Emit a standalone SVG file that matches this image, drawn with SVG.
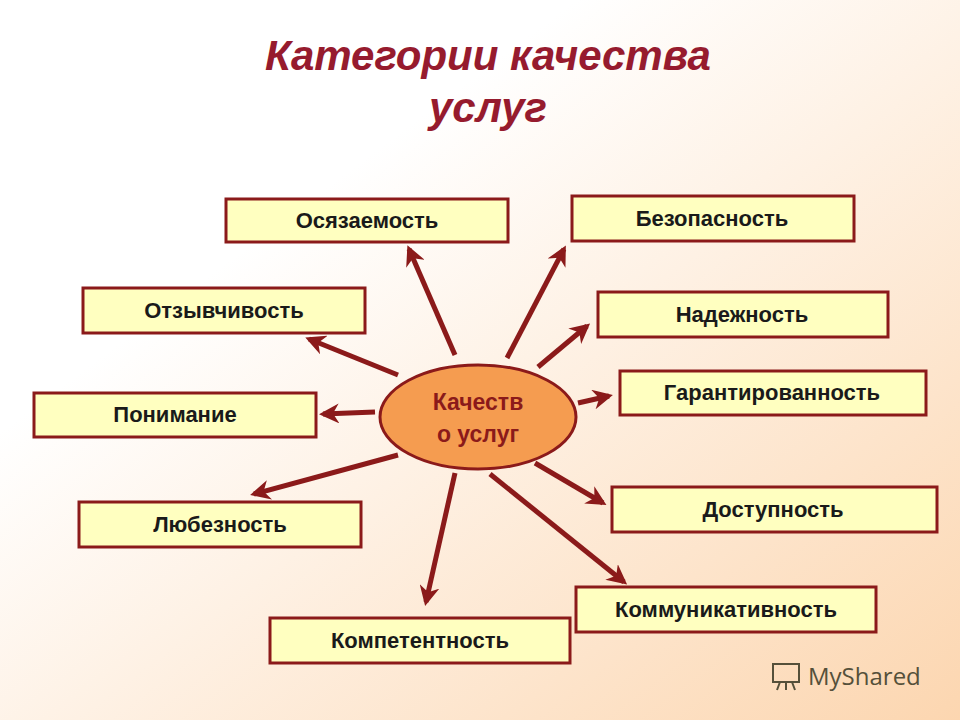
<svg xmlns="http://www.w3.org/2000/svg" width="960" height="720" viewBox="0 0 960 720">
<defs>
<linearGradient id="bg" x1="0" y1="0" x2="1" y2="1">
<stop offset="0.3" stop-color="#ffffff"/><stop offset="1" stop-color="#fcd6b0"/>
</linearGradient>
<marker id="ah" viewBox="0 0 10 10" refX="8" refY="5" markerWidth="4" markerHeight="4" orient="auto" markerUnits="strokeWidth">
<path d="M0,0 L10,5 L0,10 L3,5 Z" fill="#8b1a1a"/>
</marker>
<style>
.box rect{fill:#ffffc0;stroke:#8b1a1a;stroke-width:3}
.box text{font-family:"Liberation Sans",Arial,sans-serif;font-weight:bold;font-size:22px;fill:#1a1a1a;text-anchor:middle}
#connectors line{stroke:#8b1a1a;stroke-width:5;marker-end:url(#ah)}
.title{font-family:"Liberation Sans",Arial,sans-serif;font-weight:bold;font-style:italic;font-size:42px;fill:#961b2e;text-anchor:middle}
</style>
</defs>
<rect width="960" height="720" fill="url(#bg)"/>
<text class="title" x="488" y="70">Категории качества</text>
<text class="title" x="488" y="122">услуг</text>
<g id="connectors">
<line x1="455" y1="355" x2="409" y2="249"/>
<line x1="507" y1="358" x2="564" y2="249"/>
<line x1="398" y1="375" x2="309" y2="339"/>
<line x1="538" y1="367" x2="587" y2="326"/>
<line x1="578" y1="403" x2="609" y2="396"/>
<line x1="375" y1="412" x2="323" y2="414"/>
<line x1="398" y1="455" x2="254" y2="494"/>
<line x1="455" y1="473" x2="426" y2="602"/>
<line x1="490" y1="474" x2="624" y2="582"/>
<line x1="535" y1="463" x2="603" y2="503"/>
</g>
<g id="center">
<ellipse cx="478" cy="417" rx="98" ry="52" fill="#f59c50" stroke="#8b1a1a" stroke-width="3"/>
<text x="478" y="410" font-family="Liberation Sans,Arial,sans-serif" font-weight="bold" font-size="23" fill="#8b1a1a" text-anchor="middle">Качеств</text>
<text x="478" y="442" font-family="Liberation Sans,Arial,sans-serif" font-weight="bold" font-size="23" fill="#8b1a1a" text-anchor="middle">о услуг</text>
</g>
<g id="n1" class="box"><rect x="226" y="199" width="282" height="43"/><text x="367" y="228">Осязаемость</text></g>
<g id="n2" class="box"><rect x="572" y="196" width="282" height="45"/><text x="712" y="226">Безопасность</text></g>
<g id="n3" class="box"><rect x="83" y="288" width="282" height="45"/><text x="224" y="318">Отзывчивость</text></g>
<g id="n4" class="box"><rect x="598" y="292" width="290" height="45"/><text x="742" y="322">Надежность</text></g>
<g id="n5" class="box"><rect x="620" y="371" width="306" height="44"/><text x="772" y="400">Гарантированность</text></g>
<g id="n6" class="box"><rect x="34" y="393" width="282" height="44"/><text x="175" y="422">Понимание</text></g>
<g id="n7" class="box"><rect x="612" y="487" width="325" height="45"/><text x="773" y="517">Доступность</text></g>
<g id="n8" class="box"><rect x="79" y="502" width="282" height="45"/><text x="220" y="532">Любезность</text></g>
<g id="n9" class="box"><rect x="576" y="587" width="300" height="45"/><text x="726" y="617">Коммуникативность</text></g>
<g id="n10" class="box"><rect x="270" y="618" width="300" height="45"/><text x="420" y="648">Компетентность</text></g>
<text x="808" y="685" font-family="Open Sans,Liberation Sans,sans-serif" font-size="24" fill="#55503a">MyShared</text>
<g fill="none" stroke="#55503a" stroke-width="2"><rect x="773" y="664" width="26" height="18"/><path d="M780,682 l-3,8 M786,682 v8 M792,682 l3,8"/></g>
</svg>
